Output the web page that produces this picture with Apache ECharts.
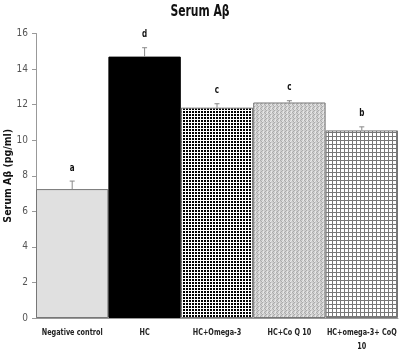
<!DOCTYPE html>
<html>
<head>
<meta charset="utf-8">
<script src="https://cdn.jsdelivr.net/npm/echarts@6/dist/echarts.min.js"></script>
<style>
  html, body { margin: 0; padding: 0; background: #fff; }
  #chart { width: 400px; height: 351px; }
</style>
</head>
<body>
<div id="chart"></div>
<script>
const categories = ['Negative control', 'HC', 'HC+Omega-3', 'HC+Co Q 10', 'HC+omega-3+ CoQ\n10'];
const means = [7.25, 14.7, 11.83, 12.12, 10.55];
const errors = [0.45, 0.5, 0.22, 0.1, 0.2];
const letters = ['a', 'd', 'c', 'c', 'b'];
const yTicks = { min: 0, max: 16, step: 2 };

// narrow look of the original (Calibri-like) is imitated by squeezing DejaVu Condensed
const FONT = '"DejaVu Sans Condensed", "DejaVu Sans", sans-serif';
const SQUEEZE = 0.8;

function tile(w, h, draw) {
    const c = document.createElement('canvas');
    c.width = w; c.height = h;
    const ctx = c.getContext('2d');
    draw(ctx);
    return { image: c, repeat: 'repeat' };
}

// dense black checker
const checkPat = tile(3, 3, ctx => {
    ctx.fillStyle = '#fff'; ctx.fillRect(0, 0, 3, 3);
    ctx.fillStyle = '#000'; ctx.fillRect(0, 0, 2, 2);
});
// mottled grey
const zigPat = tile(4, 4, ctx => {
    ctx.fillStyle = '#cfcfcf'; ctx.fillRect(0, 0, 4, 4);
    ctx.fillStyle = '#ababab';
    ctx.fillRect(0, 0, 1, 1); ctx.fillRect(1, 1, 1, 1);
    ctx.fillRect(2, 2, 1, 1); ctx.fillRect(1, 3, 1, 1);
    ctx.fillStyle = '#e8e8e8';
    ctx.fillRect(3, 0, 1, 1); ctx.fillRect(2, 1, 1, 1); ctx.fillRect(3, 3, 1, 1);
});
// fine grid
const gridPat = tile(4, 4, ctx => {
    ctx.fillStyle = '#fff'; ctx.fillRect(0, 0, 4, 4);
    ctx.fillStyle = '#777';
    ctx.fillRect(0, 0, 4, 1); ctx.fillRect(0, 0, 1, 4);
});

const fills = ['#e0e0e0', '#000000', checkPat, zigPat, gridPat];

const chart = echarts.init(document.getElementById('chart'));
chart.setOption({
    animation: false,
    graphic: [{
        type: 'text',
        x: 200, y: 12,
        scaleX: 0.8,
        style: { text: 'Serum Aβ', font: 'bold 15px ' + FONT, fill: '#111', align: 'center', verticalAlign: 'middle' }
    }],
    grid: { left: 36, right: 2, top: 33.5, bottom: 33, outerBoundsMode: 'none', containLabel: false },
    xAxis: {
        type: 'category',
        data: categories,
        axisLine: { lineStyle: { color: '#999' } },
        axisTick: { show: false },
        axisLabel: { show: false }
    },
    yAxis: {
        type: 'value',
        min: yTicks.min, max: yTicks.max, interval: yTicks.step,
        name: 'Serum Aβ (pg/ml)',
        nameLocation: 'middle',
        nameGap: 22,
        nameMoveOverlap: false,
        nameTextStyle: { fontFamily: FONT, fontWeight: 'bold', fontSize: 10.5, color: '#111' },
        axisLine: { show: true, lineStyle: { color: '#999' } },
        axisTick: { show: true, length: 4, lineStyle: { color: '#999' } },
        splitLine: { show: false },
        axisLabel: { color: '#555', fontFamily: FONT, fontSize: 10, margin: 8 }
    },
    series: [
        {
            type: 'bar',
            barCategoryGap: 0,
            data: means.map((v, i) => ({
                value: v,
                itemStyle: { color: fills[i], borderColor: i === 1 ? '#000' : '#777', borderWidth: 1 }
            }))
        },
        {
            // error bars + significance letters
            type: 'custom',
            clip: false,
            renderItem(params, api) {
                const i = params.dataIndex;
                const base = api.coord([i, means[i]]);
                const top = api.coord([i, means[i] + errors[i]]);
                return {
                    type: 'group',
                    children: [
                        { type: 'line', shape: { x1: base[0], y1: base[1], x2: top[0], y2: top[1] },
                          style: { stroke: '#888', lineWidth: 1 } },
                        { type: 'line', shape: { x1: top[0] - 2.5, y1: top[1], x2: top[0] + 2.5, y2: top[1] },
                          style: { stroke: '#888', lineWidth: 1 } },
                        { type: 'text', x: top[0], y: top[1] - 13, scaleX: SQUEEZE,
                          style: { text: letters[i], fill: '#111', font: 'bold 10px ' + FONT,
                                   align: 'center', verticalAlign: 'middle' } }
                    ]
                };
            },
            data: means.map((v, i) => [i, v]),
            z: 10
        },
        {
            // category labels, squeezed to the narrow face of the original
            type: 'custom',
            clip: false,
            silent: true,
            renderItem(params, api) {
                const i = params.dataIndex;
                const p = api.coord([i, 0]);
                return {
                    type: 'text', x: p[0], y: p[1] + 8, scaleX: SQUEEZE,
                    style: { text: categories[i], fill: '#222', font: 'bold 9px ' + FONT,
                             align: 'center', verticalAlign: 'top', lineHeight: 14 }
                };
            },
            data: categories.map((c, i) => [i, 0])
        }
    ]
});
</script>
</body>
</html>
